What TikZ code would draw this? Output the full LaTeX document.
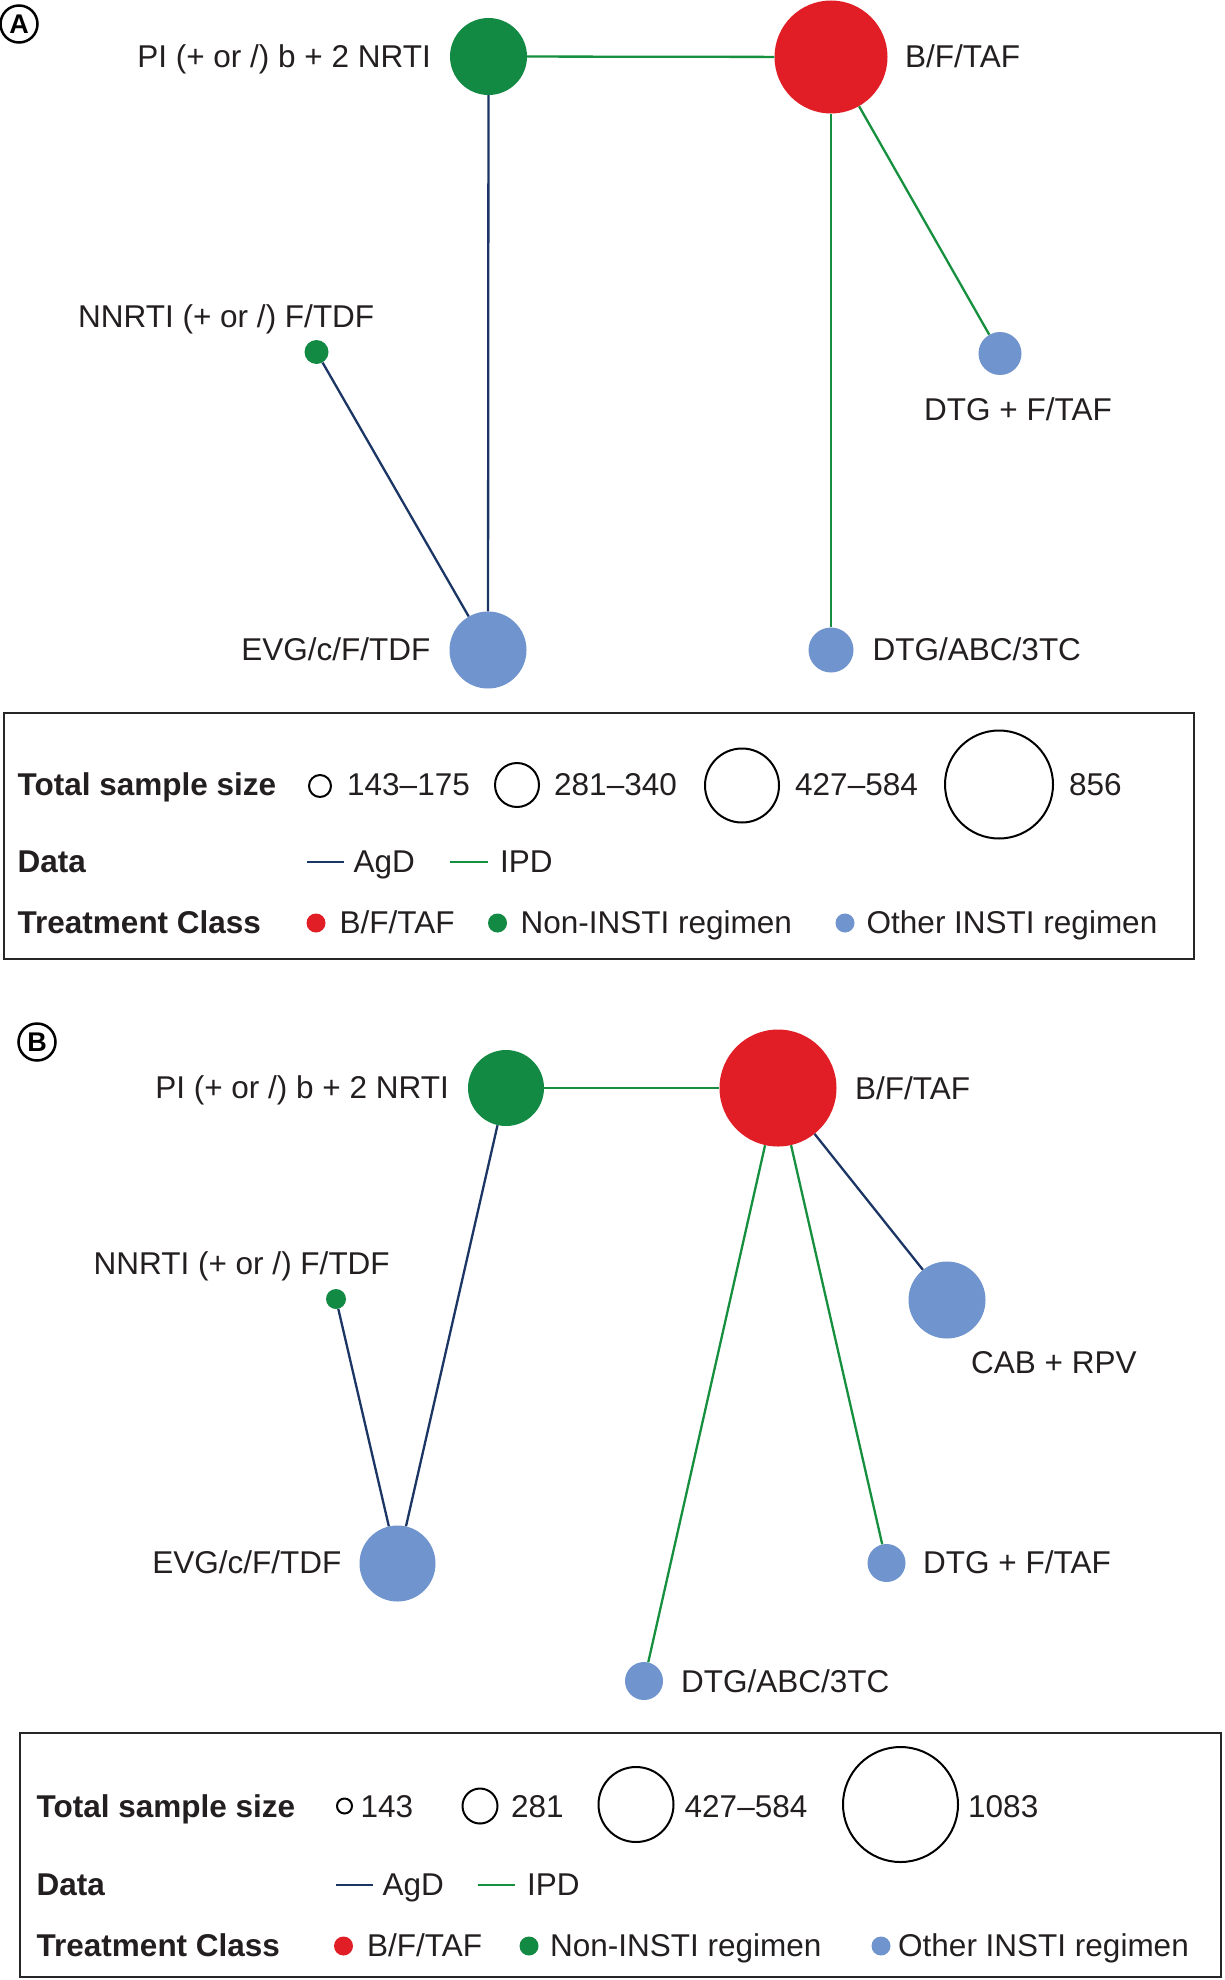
\documentclass[tikz,border=0pt]{standalone}
\usepackage{fontspec}
\setmainfont{Liberation Sans}
\definecolor{cred}{HTML}{E11E26}
\definecolor{cgreen}{HTML}{128A43}
\definecolor{cblue}{HTML}{7094CD}
\definecolor{cagd}{HTML}{1B3664}
\definecolor{cipd}{HTML}{16903F}
\definecolor{ctext}{HTML}{231F20}
\begin{document}
\begin{tikzpicture}[x=1pt,y=-1pt,
  lab/.style={font=\fontsize{31.5}{36}\selectfont, inner sep=0pt, text=ctext},
  hdr/.style={font=\fontsize{31.5}{36}\selectfont\bfseries, inner sep=0pt, text=ctext},
  nd/.style={circle, inner sep=0pt, minimum size=#1, draw=none},
  lgc/.style={circle, inner sep=0pt, minimum size=#1, draw=black, line width=2},
  panel/.style={circle, draw=black, line width=2.5, minimum size=37, inner sep=0pt, font=\fontsize{27}{27}\selectfont\bfseries},
  agd/.style={draw=cagd, line width=2.3},
  ipd/.style={draw=cipd, line width=2.3},
  frame/.style={draw=black!85, line width=2.4}
]
\fill[white] (0,0) rectangle (1224,1980);
\useasboundingbox (0,0) rectangle (1224,1980);

% ---------------- Panel A ----------------
\node[panel] (lblA) at (19,24) {A};

\node[nd=77, fill=cgreen] (piA) at (488.5,56.5) {};
\node[nd=113, fill=cred] (bfA) at (831,57) {};
\node[nd=24, fill=cgreen] (nnA) at (316.5,352) {};
\node[nd=43, fill=cblue] (dfA) at (1000,353.5) {};
\node[nd=45, fill=cblue] (daA) at (831,650) {};
\node[nd=77, fill=cblue] (evA) at (488,650) {};

\draw[ipd] (piA) -- (bfA);
\draw[ipd] (bfA) -- (dfA);
\draw[ipd] (bfA) -- (daA);
\draw[agd] (piA) -- (evA);
\draw[agd] (nnA) -- (evA);

\node[lab, anchor=base east] (tpiA) at (431,68) {PI (+ or /) b + 2 NRTI};
\node[lab, anchor=base west] (tbfA) at (905,68) {B/F/TAF};
\node[lab, anchor=base west] (tnnA) at (78,327) {NNRTI (+ or /) F/TDF};
\node[lab, anchor=base west] (tdfA) at (924,420) {DTG + F/TAF};
\node[lab, anchor=base west] (tdaA) at (872.5,660) {DTG/ABC/3TC};
\node[lab, anchor=base east] (tevA) at (430.5,660) {EVG/c/F/TDF};

% Legend A
\draw[frame] (4,713) rectangle (1194,959);
\node[hdr, anchor=base west] (hsA) at (17.5,795) {Total sample size};
\node[lgc=22] (s1A) at (320,786) {};
\node[lab, anchor=base west] (n1A) at (347,795) {143–175};
\node[lgc=44] (s2A) at (517,785) {};
\node[lab, anchor=base west] (n2A) at (554,795) {281–340};
\node[lgc=74] (s3A) at (742,785.5) {};
\node[lab, anchor=base west] (n3A) at (795,795) {427–584};
\node[lgc=108] (s4A) at (999,784.5) {};
\node[lab, anchor=base west] (n4A) at (1069,795) {856};

\node[hdr, anchor=base west] (hdA) at (17.5,872) {Data};
\coordinate (a1A) at (307,862);
\coordinate (a2A) at (343.5,862);
\draw[agd] (a1A) -- (a2A);
\node[lab, anchor=base west] (agA) at (353.5,872) {AgD};
\coordinate (i1A) at (450,862);
\coordinate (i2A) at (488,862);
\draw[ipd] (i1A) -- (i2A);
\node[lab, anchor=base west] (ipA) at (500,872) {IPD};

\node[hdr, anchor=base west] (htA) at (17.5,933) {Treatment Class};
\node[nd=19, fill=cred] (d1A) at (316,923) {};
\node[lab, anchor=base west] (c1A) at (339.5,933) {B/F/TAF};
\node[nd=19, fill=cgreen] (d2A) at (497.5,923) {};
\node[lab, anchor=base west] (c2A) at (520.5,933) {Non-INSTI regimen};
\node[nd=19, fill=cblue] (d3A) at (845,923) {};
\node[lab, anchor=base west] (c3A) at (866.5,933) {Other INSTI regimen};

% ---------------- Panel B ----------------
\node[panel] (lblB) at (37,1042) {B};

\node[nd=76, fill=cgreen] (piB) at (506,1088) {};
\node[nd=117, fill=cred] (bfB) at (778,1088) {};
\node[nd=20, fill=cgreen] (nnB) at (336,1299) {};
\node[nd=77, fill=cblue] (cabB) at (947,1300) {};
\node[nd=76, fill=cblue] (evB) at (397.5,1563.5) {};
\node[nd=38, fill=cblue] (dfB) at (886.5,1563) {};
\node[nd=38, fill=cblue] (daB) at (644,1681) {};

\draw[ipd] (piB) -- (bfB);
\draw[agd] (bfB) -- (cabB);
\draw[ipd] (bfB) -- (dfB);
\draw[ipd] (bfB) -- (daB);
\draw[agd] (piB) -- (evB);
\draw[agd] (nnB) -- (evB);

\node[lab, anchor=base east] (tpiB) at (449,1098) {PI (+ or /) b + 2 NRTI};
\node[lab, anchor=base west] (tbfB) at (855,1099) {B/F/TAF};
\node[lab, anchor=base west] (tnnB) at (93.5,1274) {NNRTI (+ or /) F/TDF};
\node[lab, anchor=base west] (tcabB) at (971,1373) {CAB + RPV};
\node[lab, anchor=base east] (tevB) at (341.5,1573) {EVG/c/F/TDF};
\node[lab, anchor=base west] (tdfB) at (923,1573) {DTG + F/TAF};
\node[lab, anchor=base west] (tdaB) at (681,1692) {DTG/ABC/3TC};

% Legend B
\draw[frame] (20,1733) rectangle (1221,1977);
\node[hdr, anchor=base west] (hsB) at (36.5,1817) {Total sample size};
\node[lgc=15] (s1B) at (344.5,1806) {};
\node[lab, anchor=base west] (n1B) at (360.5,1817) {143};
\node[lgc=35] (s2B) at (480,1806) {};
\node[lab, anchor=base west] (n2B) at (511,1817) {281};
\node[lgc=75] (s3B) at (636,1804.5) {};
\node[lab, anchor=base west] (n3B) at (684.5,1817) {427–584};
\node[lgc=115] (s4B) at (900.5,1804.5) {};
\node[lab, anchor=base west] (n4B) at (968,1817) {1083};

\node[hdr, anchor=base west] (hdB) at (36.5,1895) {Data};
\coordinate (a1B) at (335.5,1885);
\coordinate (a2B) at (372.5,1885);
\draw[agd] (a1B) -- (a2B);
\node[lab, anchor=base west] (agB) at (382.5,1895) {AgD};
\coordinate (i1B) at (478,1885);
\coordinate (i2B) at (515,1885);
\draw[ipd] (i1B) -- (i2B);
\node[lab, anchor=base west] (ipB) at (527,1895) {IPD};

\node[hdr, anchor=base west] (htB) at (36.5,1956) {Treatment Class};
\node[nd=19, fill=cred] (d1B) at (343.5,1946) {};
\node[lab, anchor=base west] (c1B) at (367,1956) {B/F/TAF};
\node[nd=19, fill=cgreen] (d2B) at (529,1946) {};
\node[lab, anchor=base west] (c2B) at (550,1956) {Non-INSTI regimen};
\node[nd=19, fill=cblue] (d3B) at (881,1946) {};
\node[lab, anchor=base west] (c3B) at (898,1956) {Other INSTI regimen};
\end{tikzpicture}
\end{document}
